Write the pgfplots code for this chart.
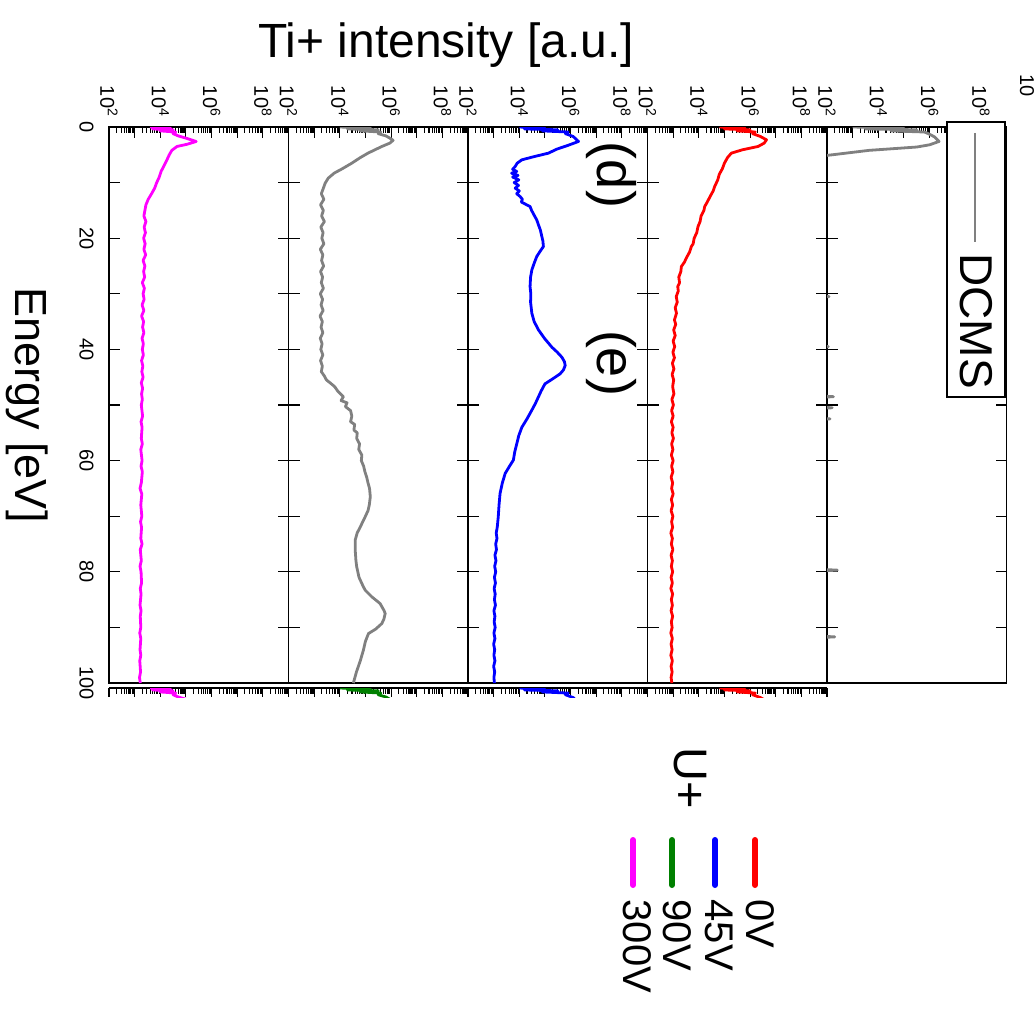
\documentclass[border=0pt]{standalone}
\usepackage{pgfplots}
\usepackage{pgfplotstable}
\pgfplotsset{compat=1.18}
\usepackage{fontspec}
\setmainfont{Liberation Sans}
\definecolor{cgray}{RGB}{128,128,128}
\definecolor{cgreen}{RGB}{0,128,0}
\definecolor{cmag}{RGB}{255,0,255}
\definecolor{cblue}{RGB}{0,0,255}
\definecolor{cred}{RGB}{255,0,0}
\newcommand\tfs{\fontsize{20}{20}\selectfont}

% E = energy [eV], L = log10 of Ti+ intensity
\pgfplotstableread{
E L
0.0 3.6
0.2 4.4
0.35 3.7
0.5 4.5
0.7 4.0
0.9 4.6
1.2 4.5
1.6 4.7
2.0 5.0
2.6 5.40
3.1 5.05
3.5 4.65
4.2 4.45
5.0 4.35
6 4.25
7 4.14
8 4.03
9 3.96
10 3.86
11 3.78
12 3.66
13 3.53
14 3.44
15 3.40
16 3.36
17 3.44
18 3.37
19 3.42
20 3.35
21 3.41
22 3.36
23 3.43
24 3.33
25 3.40
26 3.35
27 3.39
28 3.30
29 3.38
30 3.33
31 3.37
32 3.29
33 3.36
34 3.27
35 3.35
36 3.31
37 3.36
38 3.29
39 3.34
40 3.30
41 3.34
42 3.27
43 3.32
44 3.28
45 3.33
46 3.26
47 3.31
48 3.27
49 3.30
50 3.26
52 3.31
53 3.25
54 3.29
56 3.26
57 3.30
58 3.24
60 3.29
61 3.25
62 3.30
64 3.26
65 3.21
66 3.28
68 3.24
70 3.28
71 3.23
72 3.27
74 3.24
75 3.29
76 3.22
78 3.26
79 3.21
80 3.25
82 3.27
83 3.22
84 3.25
86 3.21
87 3.25
88 3.22
90 3.24
91 3.20
92 3.24
94 3.21
95 3.24
96 3.20
98 3.23
99 3.19
100 3.22
}\tabM

\pgfplotstableread{
E L
0.0 4.0
0.2 5.2
0.35 4.3
0.5 5.5
0.7 4.8
0.9 5.6
1.2 5.5
1.6 5.8
2.0 5.95
2.4 6.08
2.9 5.95
3.5 5.64
4.7 5.10
5.5 4.80
6.5 4.47
7.5 4.10
8.3 3.78
9.2 3.55
10.1 3.43
11 3.36
12 3.28
13 3.38
14 3.25
15 3.36
16 3.29
17 3.40
18 3.26
19 3.35
20 3.30
21 3.38
22 3.24
23 3.34
24 3.29
25 3.37
26 3.25
27 3.33
28 3.28
29 3.36
30 3.24
31 3.33
32 3.27
33 3.35
34 3.23
35 3.32
36 3.27
37 3.34
38 3.24
39 3.31
40 3.26
41 3.34
42 3.25
43 3.32
44 3.28
44.8 3.40
45.5 3.48
46 3.62
46.7 3.80
47.5 3.92
48.5 4.14
49.2 4.05
49.6 4.28
50.3 4.22
51 4.42
52 4.47
53 4.42
53.5 4.58
54.5 4.55
55 4.68
56 4.66
57 4.77
58 4.74
59 4.86
60 4.84
61 4.93
62 4.98
63 5.05
64 5.10
65 5.16
66.5 5.19
68 5.15
69 5.10
70.5 4.95
72 4.79
73 4.68
74.3 4.60
76 4.60
78 4.63
79.1 4.66
81 4.75
82.5 4.90
83.3 4.99
84.5 5.25
85.7 5.57
87 5.73
87.5 5.77
88.5 5.72
89.3 5.64
90.3 5.40
91.1 5.12
92.5 5.00
94.1 4.92
96 4.80
98 4.65
100 4.53
}\tabN

\pgfplotstableread{
E L
0.0 4.0
0.2 5.0
0.35 4.2
0.5 5.5
0.7 4.9
0.9 5.9
1.2 5.8
1.7 6.1
2.6 6.31
3.3 5.90
4.0 5.45
4.7 5.14
5.3 4.60
5.9 4.10
6.5 3.92
7.1 3.84
7.6 3.74
8 3.90
8.3 3.70
8.7 3.95
9 3.74
9.5 3.98
10 3.80
10.5 3.97
11 3.84
11.5 4.00
12 3.90
12.5 4.03
13 4.12
13.5 4.08
14.3 4.42
15 4.48
15.7 4.56
16.7 4.68
17.5 4.74
18.5 4.82
19.7 4.88
20.5 4.92
21.5 4.94
22.3 4.82
23.3 4.68
24.5 4.58
25.7 4.49
27 4.44
28.7 4.42
30 4.45
31.5 4.44
33.5 4.49
35 4.58
36.5 4.75
38 4.98
39.6 5.27
40.5 5.48
41.4 5.66
42.2 5.76
42.9 5.79
43.7 5.72
44.4 5.59
45.3 5.30
46.2 5.00
47.5 4.85
48.8 4.72
49.8 4.62
51 4.48
52.5 4.30
54 4.10
55.5 3.98
57 3.90
58.5 3.82
59.9 3.77
61 3.62
62.3 3.45
64 3.34
65.9 3.25
68 3.21
70.1 3.18
72 3.14
73 3.10
74 3.13
75 3.08
76 3.11
77 3.05
78 3.09
79 3.04
80 3.08
81 3.03
82 3.07
83 3.02
84 3.06
85 3.03
86 3.07
87 3.01
88 3.05
89 3.02
90 3.06
91 3.01
92 3.05
93 3.00
94 3.04
95 3.01
96 3.05
97 3.00
98 3.04
99 3.01
100 3.03
}\tabB

\pgfplotstableread{
E L
0.0 4.8
0.2 5.8
0.35 5.0
0.5 6.0
0.7 5.5
0.9 6.2
1.2 6.1
1.7 6.40
2.3 6.64
2.9 6.55
3.5 6.31
4.1 5.70
4.7 5.27
5.5 5.12
6.5 5.00
7.5 4.92
8.5 4.80
9.5 4.74
10.7 4.62
11.5 4.56
12.5 4.44
13.5 4.33
14.3 4.23
15 4.20
16 4.09
17 4.05
17.9 3.97
19 3.92
20 3.82
21 3.78
21.5 3.71
22.5 3.64
23.5 3.52
24.3 3.44
25.1 3.32
26 3.30
27 3.22
28 3.25
28.7 3.18
29.5 3.20
30.5 3.12
31.5 3.16
32.5 3.08
33.5 3.13
34.7 3.05
35.5 3.10
36.5 3.02
37.5 3.08
38.5 3.00
39.5 3.06
40.5 2.99
41.5 3.05
42.5 2.97
43.5 3.03
44.5 2.96
45.5 3.02
46.7 2.98
48 3.03
49 2.95
50 3.01
51 2.94
52 3.00
53 2.93
54 3.00
55 2.95
56 3.01
57 2.94
58 2.99
59 2.93
60 3.00
61 2.94
62 2.99
63 2.92
64 2.98
65 2.94
66 3.00
67 2.93
68 2.98
69 2.92
70 2.99
71 2.94
72 2.98
73 2.91
74 2.97
75 2.93
76 2.99
77 2.92
78 2.97
79 2.93
80 2.98
81 2.92
82 2.97
83 2.91
84 2.98
85 2.93
86 2.97
87 2.92
88 2.98
89 2.93
90 2.96
91 2.91
92 2.97
93 2.92
94 2.96
95 2.91
96 2.97
97 2.92
98 2.96
99 2.92
100 2.95
}\tabR

\pgfplotstableread{
E L
0.0 3.0
0.2 5.0
0.35 3.5
0.5 5.5
0.7 4.5
0.9 5.8
1.3 6.0
1.8 6.2
2.6 6.37
3.2 6.0
3.6 5.5
4.2 3.64
5.0 2.2
5.6 1.0
30.2 1.0
30.5 2.08
30.8 1.0
39.2 1.0
39.5 2.05
39.8 1.0
48.2 1.0
48.5 2.25
48.8 1.0
50.2 1.0
50.5 2.2
50.8 1.0
52.2 1.0
52.5 2.12
52.8 1.0
79.4 1.0
79.7 2.4
80.0 1.0
91.4 1.0
91.7 2.3
92.0 1.0
100 1.0
}\tabD

\pgfplotsset{
  mypanel/.style={
    xmin=2, xmax=9,
    xtick={2,3,4,5,6,7,8,9},
    minor xtick={2.301,2.477,2.602,2.699,2.778,2.845,2.903,2.954,
      3.301,3.477,3.602,3.699,3.778,3.845,3.903,3.954,
      4.301,4.477,4.602,4.699,4.778,4.845,4.903,4.954,
      5.301,5.477,5.602,5.699,5.778,5.845,5.903,5.954,
      6.301,6.477,6.602,6.699,6.778,6.845,6.903,6.954,
      7.301,7.477,7.602,7.699,7.778,7.845,7.903,7.954,
      8.301,8.477,8.602,8.699,8.778,8.845,8.903,8.954},
    tick align=inside,
    tick style={black, line width=1.1pt},
    minor tick length=6pt,
    major tick length=11pt,
    scale only axis, width=179.5pt, height=556pt,
    ymin=0, ymax=100, y dir=reverse,
    axis line style={line width=1.4pt},
    xticklabels={\tfs 10\textsuperscript{2},,\tfs 10\textsuperscript{4},,\tfs 10\textsuperscript{6},,\tfs 10\textsuperscript{8},},
    xtick pos=right, xticklabel pos=right,
    xticklabel style={rotate=-90, anchor=east},
    xticklabel shift=7pt,
    ytick={0,10,20,30,40,50,60,70,80,90,100},
    yticklabels={},
    ytick pos=both,
    clip=true,
    every axis plot/.append style={line width=2.8pt, line join=round},
  },
  mystrip/.style={
    xmin=2, xmax=9,
    xtick={2,3,4,5,6,7,8,9},
    minor xtick={2.301,2.477,2.602,2.699,2.778,2.845,2.903,2.954,
      3.301,3.477,3.602,3.699,3.778,3.845,3.903,3.954,
      4.301,4.477,4.602,4.699,4.778,4.845,4.903,4.954,
      5.301,5.477,5.602,5.699,5.778,5.845,5.903,5.954,
      6.301,6.477,6.602,6.699,6.778,6.845,6.903,6.954,
      7.301,7.477,7.602,7.699,7.778,7.845,7.903,7.954,
      8.301,8.477,8.602,8.699,8.778,8.845,8.903,8.954},
    tick align=inside,
    tick style={black, line width=1.1pt},
    minor tick length=6pt,
    major tick length=9pt,
    scale only axis, width=179.5pt, height=9pt,
    ymin=0, ymax=1.6, y dir=reverse,
    axis x line*=top, axis y line*=left,
    axis line style={line width=1.4pt},
    xticklabels={}, ytick=\empty,
    clip=true,
    every axis plot/.append style={line width=2.8pt, line join=round},
  },
}

\begin{document}
\begin{tikzpicture}
\path[use as bounding box] (0pt,0pt) rectangle (1035pt,-1016pt);

\begin{axis}[mypanel, at={(198.75pt,-405pt)}, anchor=center,
  yticklabels={\tfs 0,,\tfs 20,,\tfs 40,,\tfs 60,,\tfs 80,,\tfs 100},
  yticklabel pos=left,
  yticklabel style={rotate=-90, anchor=north},
  yticklabel shift=12pt]
\addplot[cmag] table[x=L, y=E] {\tabM};
\end{axis}
\begin{axis}[mypanel, at={(378.25pt,-405pt)}, anchor=center]
\addplot[cgray] table[x=L, y=E] {\tabN};
\end{axis}
\begin{axis}[mypanel, at={(557.75pt,-405pt)}, anchor=center]
\addplot[cblue] table[x=L, y=E] {\tabB};
\end{axis}
\begin{axis}[mypanel, at={(737.25pt,-405pt)}, anchor=center]
\addplot[cred] table[x=L, y=E] {\tabR};
\end{axis}
\begin{axis}[mypanel, at={(916.75pt,-405pt)}, anchor=center]
\addplot[cgray] table[x=L, y=E] {\tabD};
\end{axis}

\begin{axis}[mystrip, at={(198.75pt,-692.5pt)}, anchor=center]
\addplot[cmag] table[x=L, y=E] {\tabM};
\end{axis}
\begin{axis}[mystrip, at={(378.25pt,-692.5pt)}, anchor=center]
\addplot[cgreen] table[x=L, y=E] {\tabN};
\end{axis}
\begin{axis}[mystrip, at={(557.75pt,-692.5pt)}, anchor=center]
\addplot[cblue] table[x=L, y=E] {\tabB};
\end{axis}
\begin{axis}[mystrip, at={(737.25pt,-692.5pt)}, anchor=center]
\addplot[cred] table[x=L, y=E] {\tabR};
\end{axis}

\node[font=\fontsize{48}{48}\selectfont] at (446pt,-45pt) {Ti+ intensity [a.u.]};
\node[rotate=-90, font=\fontsize{45}{45}\selectfont] at (27pt,-405pt) {Energy [eV]};
\node[rotate=-90, font=\fontsize{20}{20}\selectfont] at (1027pt,-86pt) {10};

\node[rotate=-90, font=\fontsize{54}{54}\selectfont] at (611pt,-175pt) {(d)};
\node[rotate=-90, font=\fontsize{54}{54}\selectfont] at (611pt,-363pt) {(e)};

\draw[fill=white, line width=1.3pt] (947pt,-122pt) rectangle (1005pt,-397pt);
\draw[cgray, line width=2.8pt] (975pt,-133pt) -- (975pt,-242pt);
\node[rotate=-90, anchor=west, font=\fontsize{46}{46}\selectfont] at (976pt,-250pt) {DCMS};

\node[rotate=-90, font=\fontsize{47}{47}\selectfont] at (690pt,-778pt) {U+};
\draw[cred, line width=6pt, line cap=round] (755pt,-840pt) -- (755pt,-885pt);
\draw[cblue, line width=6pt, line cap=round] (715pt,-840pt) -- (715pt,-885pt);
\draw[cgreen, line width=6pt, line cap=round] (672pt,-840pt) -- (672pt,-885pt);
\draw[cmag, line width=6pt, line cap=round] (633pt,-840pt) -- (633pt,-885pt);
\node[rotate=-90, anchor=west, font=\fontsize{40}{40}\selectfont] at (760pt,-896pt) {0V};
\node[rotate=-90, anchor=west, font=\fontsize{40}{40}\selectfont] at (719pt,-896pt) {45V};
\node[rotate=-90, anchor=west, font=\fontsize{40}{40}\selectfont] at (677pt,-896pt) {90V};
\node[rotate=-90, anchor=west, font=\fontsize{40}{40}\selectfont] at (637pt,-896pt) {300V};
\end{tikzpicture}
\end{document}
